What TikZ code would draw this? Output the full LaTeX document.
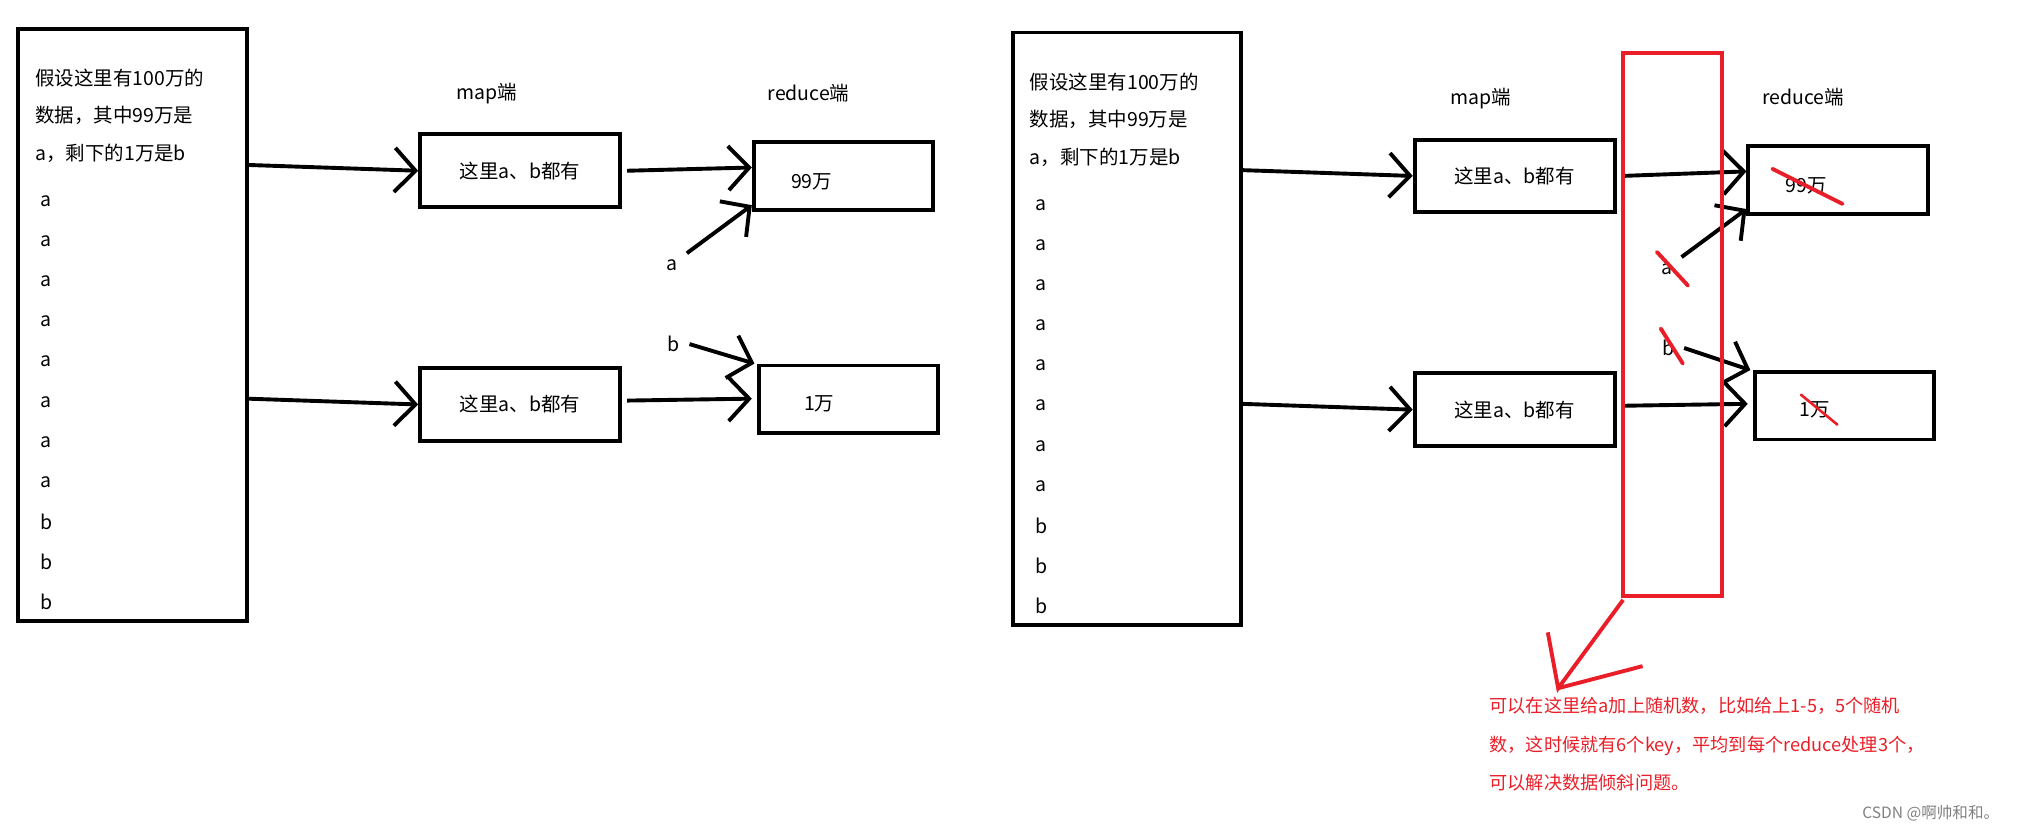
\documentclass[tikz,border=0pt]{standalone}
\usepackage{fontspec}
\setmainfont{Noto Sans CJK SC}
\usetikzlibrary{arrows.meta}
\definecolor{rd}{RGB}{234,30,40}
\begin{document}
\begin{tikzpicture}[x=1pt,y=-1pt,
  box/.style={draw,line width=3pt},
  arr/.style={line width=3pt,-{Straight Barb[length=16pt,width=34pt,line width=3pt]}},
  txt/.style={font=\fontsize{15}{15}\selectfont,inner sep=0,anchor=west},
  strike/.style={draw=rd,line width=3pt,line cap=round}]
\useasboundingbox (0,0) rectangle (1568,640);
\foreach \p/\x/\y/\mx/\my/\rx/\ry/\ax/\bx/\mb/\rb/\rbx in {L/14/22/322/102/579/108/35/27/282/280/583,R/780/25/1088/106/1345/111/801/793/286/285/1350}{
  \draw[box] (\x,\y) rectangle ++(176,456);
  \node[txt] (\p t1) at (\bx+\ax-\ax-0,\y+38) {假设这里有100万的};
  \node[txt] (\p t2) at (\bx,\y+67) {数据，其中99万是};
  \node[txt] (\p t3) at (\bx,\y+96) {a，剩下的1万是b};
  \foreach \c [count=\i] in {a,a,a,a,a,a,a,a,b,b,b}
    \node[txt] (\p l\i) at (\ax-4,\y+102+\i*30.9) {\c};
  \node[box,minimum width=154,minimum height=56,anchor=north west,font=\fontsize{15}{15}\selectfont] (\p m1) at (\mx,\my) {这里a、b都有};
  \node[box,minimum width=154,minimum height=56,anchor=north west,font=\fontsize{15}{15}\selectfont] (\p m2) at (\mx,\mb) {这里a、b都有};
  \node[box,minimum width=138,minimum height=52,anchor=north west] (\p r1) at (\rx,\ry) {};
  \node[box,minimum width=138,minimum height=52,anchor=north west] (\p r2) at (\rbx,\rb) {};
  \node[txt] (\p n1) at (\rx+30,\ry+32) {99万};
  \node[txt] (\p n2) at (\rbx+36,\rb+31) {1万};
  \node[txt] (\p map) at (\mx+29,\my-30) {map端};
  \node[txt] (\p red) at (\rx+12,\ry-36) {reduce端};
  \node[txt] (\p a) at (\rx-66,\ry+96) {a};
  \node[txt] (\p b) at (\rx-65,\ry+157) {b};
  \draw[arr] (\x+176,\my+25) -- (\p m1.west);
  \draw[arr] (\x+176,\mb+25) -- (\p m2.west);
  \draw[arr] (\p m1.east) ++(4,0) -- (\rx,\ry+21);
  \draw[arr] (\p m2.east) ++(4,-3) -- (\rbx-4,\mb+25);
  \draw[arr] (\rx-50,\ry+87) -- (\rx,\ry+50);
  \draw[arr] (\rx-48,\ry+157) -- (\rbx-2,\rb);
}
\draw[draw=rd,line width=3pt] (1250,41) rectangle (1326,459);
\coordinate (tip) at (1200,530);
\draw[draw=rd,line width=3pt] (1250,462) -- (tip) -- (1192,487) (tip) -- (1265,513);
\node[txt,text=rd,anchor=north west,align=left,font=\fontsize{14}{29.5}\selectfont] (note) at (1147,537)
  {可以在这里给a加上随机数，比如给上1-5，5个随机\\数，这时候就有6个key，平均到每个reduce处理3个，\\可以解决数据倾斜问题。};
\draw[strike] (1365,130) -- (1419,157);
\draw[strike] (1276,194) -- (1300,220);
\draw[strike] (1279,253) -- (1296,280);
\draw[strike,line width=2pt] (1387,304) -- (1415,327);
\node[txt,text=gray,font=\fontsize{12}{12}\selectfont] (wm) at (1434,626) {CSDN @啊帅和和。};
\end{tikzpicture}
\end{document}
